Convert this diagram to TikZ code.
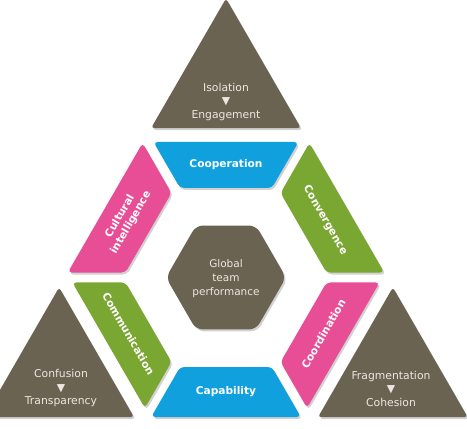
\documentclass[tikz,border=0pt]{standalone}
\usepackage{fontspec}
\setmainfont{DejaVu Sans}
\usepackage{xcolor}
\definecolor{teambrown}{RGB}{107,99,82}
\definecolor{teamblue}{RGB}{16,160,222}
\definecolor{teampink}{RGB}{232,78,150}
\definecolor{teamgreen}{RGB}{122,166,50}
\definecolor{teamtext}{RGB}{236,232,224}
\usepackage{tikz}
\usetikzlibrary{shadows}

\begin{document}
\begin{tikzpicture}[x=1pt,y=1pt,
  softshadow/.style={drop shadow={shadow xshift=1.5pt,shadow yshift=-2pt,opacity=.3,fill=black!60}},
  corner/.style={fill=teambrown,rounded corners=3pt,softshadow},
  band/.style={rounded corners=4pt,softshadow},
  cornerlbl/.style={text=teamtext,align=center,font=\fontsize{10.8}{13.5}\selectfont},
  bandlbl/.style={text=white,align=center,font=\fontsize{10.6}{12.5}\selectfont\bfseries}]
  % lienzo 467 x 429, centro del triangulo en el origen
  \useasboundingbox (-226,-151.5) rectangle (241,277.5);
  % --- Triangulos de las esquinas ---
  \fill[corner] (90:279) -- (63.4:167.2) -- (116.6:167.2) -- cycle;
  \fill[corner] (210:279) -- (183.4:167.2) -- (236.6:167.2) -- cycle;
  \fill[corner] (-30:279) -- (-56.6:167.2) -- (-3.4:167.2) -- cycle;
  \node[cornerlbl] (isolation) at (0,175.5) {Isolation\\▼\\Engagement};
  \node[cornerlbl] (confusion) at (-165,-111) {Confusion\\▼\\Transparency};
  \node[cornerlbl] (fragmentation) at (165,-111) {Fragmentation\\▼\\Cohesion};
  % --- Anillo de bandas ---
  \fill[band,teamblue]  (118.15:153.7) -- (61.85:153.7) -- (62.85:100.6) -- (117.15:100.6) -- cycle;
  \fill[band,teamgreen] (58.2:158.3) -- (1.8:158.3) -- (2.85:100.6) -- (57.15:100.6) -- cycle;
  \fill[band,teampink]  (-1.85:153.7) -- (-58.15:153.7) -- (-57.15:100.6) -- (-2.85:100.6) -- cycle;
  \fill[band,teamblue]  (-61.8:158.3) -- (-118.2:158.3) -- (-117.15:100.6) -- (-62.85:100.6) -- cycle;
  \fill[band,teamgreen] (-121.85:153.7) -- (-178.15:153.7) -- (-177.15:100.6) -- (-122.85:100.6) -- cycle;
  \fill[band,teampink]  (178.2:158.3) -- (121.8:158.3) -- (122.85:100.6) -- (177.15:100.6) -- cycle;
  \node[bandlbl] (cooperation) at (90:112.5) {Cooperation};
  \node[bandlbl,rotate=-60] (convergence) at (30:114.5) {Convergence};
  \node[bandlbl,rotate=60] (coordination) at (-30:112.5) {Coordination};
  \node[bandlbl] (capability) at (-90:114.5) {Capability};
  \node[bandlbl,rotate=-60] (communication) at (-150:112.5) {Communication};
  \node[bandlbl,rotate=60] (cultural) at (150:116) {Cultural\\intelligence};
  % --- Hexagono central ---
  \fill[corner,rounded corners=7pt] (0:60) -- (60:60) -- (120:60) -- (180:60) -- (240:60) -- (300:60) -- cycle;
  \node[cornerlbl,font=\fontsize{10.5}{14}\selectfont] (performance) at (0,-1) {Global\\team\\performance};
\end{tikzpicture}
\end{document}
